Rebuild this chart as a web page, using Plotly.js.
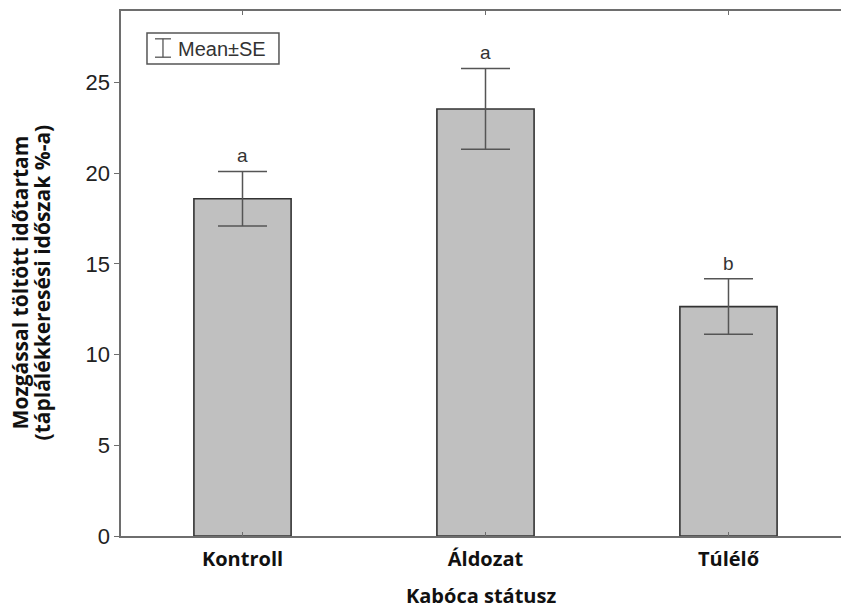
<!DOCTYPE html>
<html>
<head>
<meta charset="utf-8">
<script src="https://cdn.plot.ly/plotly-3.0.1.min.js"></script>
<style>
  html, body { margin: 0; padding: 0; background: #fff; }
  #chart { width: 841px; height: 609px; }
</style>
</head>
<body>
<div id="chart"></div>
<script>
// Time spent moving, by leafhopper status (mean ± SE)
const categories = ['Kontroll', 'Áldozat', 'Túlélő'];
const means = [18.6, 23.55, 12.65];
const stdErrors = [1.5, 2.23, 1.53];
const groupLetters = ['a', 'a', 'b'];
const yTicks = [0, 5, 10, 15, 20, 25];
const yTitleLines = ['Mozgással töltött időtartam', '(táplálékkeresési időszak %-a)'];
const xTitle = 'Kabóca státusz';

const axisGray = '#6e6e6e';

const bars = {
  type: 'bar',
  x: categories,
  y: means,
  width: 0.4,
  marker: { color: '#c0c0c0', line: { color: '#333333', width: 1.6 } },
  error_y: {
    type: 'data',
    array: stdErrors,
    visible: true,
    color: '#555555',
    thickness: 1.5,
    width: 24.5
  },
  showlegend: false,
  hoverinfo: 'x+y'
};

// significance letters sit just above each upper error cap
const letterNotes = categories.map((c, i) => ({
  x: c,
  y: means[i] + stdErrors[i],
  xref: 'x',
  yref: 'y',
  text: groupLetters[i],
  showarrow: false,
  yanchor: 'bottom',
  yshift: 3,
  font: { family: 'Liberation Sans, Arial, sans-serif', size: 19, color: '#333333' }
}));

// legend box: error-bar glyph + label
const legendShapes = [
  { type: 'rect', xref: 'paper', yref: 'paper', x0: 0.0361, x1: 0.2194, y0: 0.899, y1: 0.958,
    line: { color: '#555555', width: 1.5 }, fillcolor: '#ffffff' },
  { type: 'line', xref: 'paper', yref: 'paper', x0: 0.0583, x1: 0.0583, y0: 0.912, y1: 0.947,
    line: { color: '#555555', width: 1.3 } },
  { type: 'line', xref: 'paper', yref: 'paper', x0: 0.0472, x1: 0.0694, y0: 0.947, y1: 0.947,
    line: { color: '#555555', width: 1.3 } },
  { type: 'line', xref: 'paper', yref: 'paper', x0: 0.0472, x1: 0.0694, y0: 0.912, y1: 0.912,
    line: { color: '#555555', width: 1.3 } }
];

const legendText = {
  xref: 'paper', yref: 'paper',
  x: 0.077, y: 0.9285,
  xanchor: 'left', yanchor: 'middle',
  text: 'Mean±SE',
  showarrow: false,
  font: { family: 'Liberation Sans, Arial, sans-serif', size: 20, color: '#333333' }
};

const boldFont = (size) => ({ family: 'Open Sans, sans-serif', size: size, color: '#111111', weight: 'bold' });

// two-line vertical y-axis title, one annotation per line for tight spacing
const yTitleX = [-0.1403, -0.1097];
const yTitleNotes = yTitleLines.map((t, i) => ({
  xref: 'paper', yref: 'paper',
  x: yTitleX[i], y: 0.483,
  xanchor: 'center', yanchor: 'middle',
  textangle: -90,
  text: t,
  showarrow: false,
  font: boldFont(21)
}));

// x-axis title placed below the category labels
const xTitleNote = {
  xref: 'paper', yref: 'paper',
  x: 0.5, y: -0.1124,
  xanchor: 'center', yanchor: 'middle',
  text: xTitle,
  showarrow: false,
  font: boldFont(20)
};

const layout = {
  width: 841,
  height: 609,
  margin: { l: 121, r: 0, t: 11, b: 73 },
  paper_bgcolor: '#ffffff',
  plot_bgcolor: '#ffffff',
  showlegend: false,
  xaxis: {
    type: 'category',
    range: [-0.5, 2.463],
    showline: true,
    linecolor: axisGray,
    linewidth: 1.6,
    mirror: 'ticks',
    ticks: 'inside',
    ticklen: 4,
    tickcolor: axisGray,
    showgrid: false,
    zeroline: false,
    ticklabelstandoff: 4,
    tickfont: boldFont(20)
  },
  yaxis: {
    range: [0, 28.95],
    tickvals: yTicks,
    ticktext: yTicks.map(String),
    showline: true,
    linecolor: axisGray,
    linewidth: 1.6,
    mirror: 'ticks',
    ticks: 'outside',
    ticklen: 5,
    tickcolor: axisGray,
    showgrid: false,
    zeroline: false,
    tickfont: { family: 'Liberation Sans, Arial, sans-serif', size: 22, color: '#222222' }
  },
  shapes: legendShapes,
  annotations: letterNotes.concat([legendText, xTitleNote], yTitleNotes)
};

Plotly.newPlot('chart', [bars], layout, { displayModeBar: false, staticPlot: true });
</script>
</body>
</html>
